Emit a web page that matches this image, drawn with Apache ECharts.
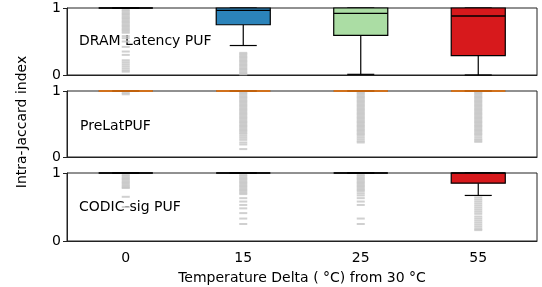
<!DOCTYPE html>
<html>
<head>
<meta charset="utf-8">
<script src="https://cdn.jsdelivr.net/npm/echarts@6/dist/echarts.min.js"></script>
<style>
  html, body { margin: 0; padding: 0; background: #fff; }
  #chart { width: 542px; height: 287px; }
</style>
</head>
<body>
<div id="chart"></div>
<script>
const categories = ['0', '15', '25', '55'];
const panelNames = ['DRAM Latency PUF', 'PreLatPUF', 'CODIC-sig PUF'];

// box stats per category: [lowWhisker, q1, median, q3, highWhisker]
const dramStats = [
  [1, 1, 1, 1, 1],
  [0.44, 0.75, 0.965, 1, 1],
  [0.01, 0.59, 0.92, 1, 1],
  [0.0, 0.29, 0.88, 1, 1]
];
const prelatStats = [
  [1, 1, 1, 1, 1],
  [1, 1, 1, 1, 1],
  [1, 1, 1, 1, 1],
  [1, 1, 1, 1, 1]
];
const codicStats = [
  [1, 1, 1, 1, 1],
  [1, 1, 1, 1, 1],
  [1, 1, 1, 1, 1],
  [0.67, 0.85, 1, 1, 1]
];

// outliers per category
const dramOutliers = [
  [0.97, 0.95, 0.93, 0.91, 0.89, 0.87, 0.85, 0.83, 0.81, 0.79, 0.77, 0.75, 0.73, 0.71,
   0.69, 0.67, 0.65, 0.63, 0.58, 0.55, 0.50, 0.42, 0.35, 0.30, 0.22, 0.19, 0.16, 0.13, 0.10, 0.07, 0.05],
  [0.33, 0.31, 0.29, 0.27, 0.25, 0.23, 0.21, 0.19, 0.17, 0.15, 0.13, 0.11, 0.09, 0.07, 0.05, 0.03, 0.01],
  [],
  []
];
const prelatOutliers = [
  [0.97, 0.95],
  [0.99, 0.97, 0.95, 0.93, 0.91, 0.89, 0.87, 0.85, 0.83, 0.81, 0.79, 0.77, 0.75, 0.73, 0.71,
   0.69, 0.67, 0.65, 0.63, 0.61, 0.59, 0.57, 0.55, 0.53, 0.51, 0.49, 0.47, 0.45, 0.43, 0.41,
   0.39, 0.37, 0.35, 0.32, 0.29, 0.26, 0.22, 0.19, 0.12],
  [0.99, 0.97, 0.95, 0.93, 0.91, 0.89, 0.87, 0.85, 0.83, 0.81, 0.79, 0.77, 0.75, 0.73, 0.71,
   0.69, 0.67, 0.65, 0.63, 0.61, 0.59, 0.57, 0.55, 0.53, 0.51, 0.49, 0.47, 0.45, 0.43, 0.41,
   0.39, 0.37, 0.35, 0.33, 0.30, 0.27, 0.24, 0.22],
  [0.99, 0.97, 0.95, 0.93, 0.91, 0.89, 0.87, 0.85, 0.83, 0.81, 0.79, 0.77, 0.75, 0.73, 0.71,
   0.69, 0.67, 0.65, 0.63, 0.61, 0.59, 0.57, 0.55, 0.53, 0.51, 0.49, 0.47, 0.45, 0.43, 0.41,
   0.39, 0.37, 0.35, 0.33, 0.30, 0.27, 0.25, 0.23]
];
const codicOutliers = [
  [0.97, 0.95, 0.93, 0.91, 0.89, 0.87, 0.85, 0.83, 0.81, 0.79, 0.78, 0.65, 0.50],
  [0.97, 0.95, 0.93, 0.91, 0.89, 0.87, 0.85, 0.83, 0.81, 0.79, 0.77, 0.75, 0.73, 0.71, 0.69,
   0.63, 0.58, 0.53, 0.48, 0.41, 0.33, 0.25],
  [0.97, 0.95, 0.93, 0.91, 0.89, 0.87, 0.85, 0.83, 0.81, 0.79, 0.77, 0.75, 0.73,
   0.70, 0.67, 0.63, 0.58, 0.53, 0.33, 0.25],
  [0.64, 0.61, 0.58, 0.55, 0.52, 0.49, 0.46, 0.43, 0.40, 0.36, 0.33, 0.30, 0.27, 0.24, 0.21, 0.18, 0.16]
];

const allStats = [dramStats, prelatStats, codicStats];
const allOutliers = [dramOutliers, prelatOutliers, codicOutliers];

const boxColors = ['#fdae61', '#2b83ba', '#abdda4', '#d7191c'];
const medianColors = ['#000', '#ff7f0e', '#000'];
const grids = [
  { left: 67, right: 5, top: 8, height: 67 },
  { left: 67, right: 5, top: 91, height: 66 },
  { left: 67, right: 5, top: 173, height: 68 }
];

const chart = echarts.init(document.getElementById('chart'), null, { renderer: 'canvas' });

function boxRenderer(panel) {
  return function (params, api) {
    const x = api.value(0);
    const pLow = api.coord([x, api.value(1)]);
    const pQ1 = api.coord([x, api.value(2)]);
    const pMed = api.coord([x, api.value(3)]);
    const pQ3 = api.coord([x, api.value(4)]);
    const pHigh = api.coord([x, api.value(5)]);
    const cx = pQ1[0];
    const bw = api.size([1, 0])[0] * 0.46;
    const cap = bw / 2;
    const line = { stroke: '#000', lineWidth: 1.2 };
    return {
      type: 'group',
      children: [
        { type: 'line', shape: { x1: cx, y1: pQ1[1], x2: cx, y2: pLow[1] }, style: line },
        { type: 'line', shape: { x1: cx, y1: pQ3[1], x2: cx, y2: pHigh[1] }, style: line },
        { type: 'line', shape: { x1: cx - cap / 2, y1: pLow[1], x2: cx + cap / 2, y2: pLow[1] }, style: line },
        { type: 'line', shape: { x1: cx - cap / 2, y1: pHigh[1], x2: cx + cap / 2, y2: pHigh[1] }, style: line },
        {
          type: 'rect',
          shape: { x: cx - bw / 2, y: pQ3[1], width: bw, height: pQ1[1] - pQ3[1] },
          style: { fill: boxColors[x], stroke: '#000', lineWidth: 1.2 }
        },
        {
          type: 'line',
          shape: { x1: cx - bw / 2, y1: pMed[1], x2: cx + bw / 2, y2: pMed[1] },
          style: { stroke: medianColors[panel], lineWidth: 1.4 }
        }
      ]
    };
  };
}

const series = [];
allStats.forEach((stats, p) => {
  series.push({
    type: 'scatter',
    xAxisIndex: p,
    yAxisIndex: p,
    symbol: 'rect',
    symbolSize: [8, 2],
    itemStyle: { color: '#c4c4c4' },
    silent: true,
    data: allOutliers[p].flatMap((vals, i) => vals.map(v => [i, v]))
  });
  series.push({
    type: 'custom',
    xAxisIndex: p,
    yAxisIndex: p,
    renderItem: boxRenderer(p),
    encode: { x: 0, y: [1, 2, 3, 4, 5] },
    z: 3,
    data: stats.map((s, i) => [i].concat(s))
  });
});

const font = 'DejaVu Sans';

const option = {
  animation: false,
  grid: grids.map(g => Object.assign({ show: true, borderColor: '#222', borderWidth: 1 }, g)),
  xAxis: grids.map((g, i) => ({
    type: 'category',
    gridIndex: i,
    data: categories,
    axisLine: { lineStyle: { color: '#222' } },
    axisTick: { alignWithLabel: true, length: 4, lineStyle: { color: '#222' } },
    axisLabel: { show: i === 2, color: '#000', fontSize: 14, fontFamily: font, margin: 10 },
    name: i === 2 ? 'Temperature Delta ( \u00B0C) from 30 \u00B0C' : '',
    nameLocation: 'middle',
    nameGap: 30,
    nameTextStyle: { color: '#000', fontSize: 14, fontFamily: font }
  })),
  yAxis: grids.map((g, i) => ({
    type: 'value',
    gridIndex: i,
    min: 0,
    max: 1,
    interval: 1,
    splitLine: { show: false },
    axisLine: { show: true, lineStyle: { color: '#222' } },
    axisTick: { show: true, length: 4, lineStyle: { color: '#222' } },
    axisLabel: { color: '#000', fontSize: 14, fontFamily: font, margin: 6 }
  })),
  graphic: [
    {
      type: 'text', left: 79, top: 34,
      style: { text: panelNames[0], font: '14px DejaVu Sans', fill: '#000' }
    },
    {
      type: 'text', left: 80, top: 119,
      style: { text: panelNames[1], font: '14px DejaVu Sans', fill: '#000' }
    },
    {
      type: 'text', left: 79, top: 200,
      style: { text: panelNames[2], font: '14px DejaVu Sans', fill: '#000' }
    },
    {
      type: 'text', x: 22, y: 122, rotation: Math.PI / 2,
      style: {
        text: 'Intra-Jaccard index', font: '14px DejaVu Sans', fill: '#000',
        align: 'center', verticalAlign: 'middle'
      }
    }
  ],
  series: series
};

chart.setOption(option);
</script>
</body>
</html>
